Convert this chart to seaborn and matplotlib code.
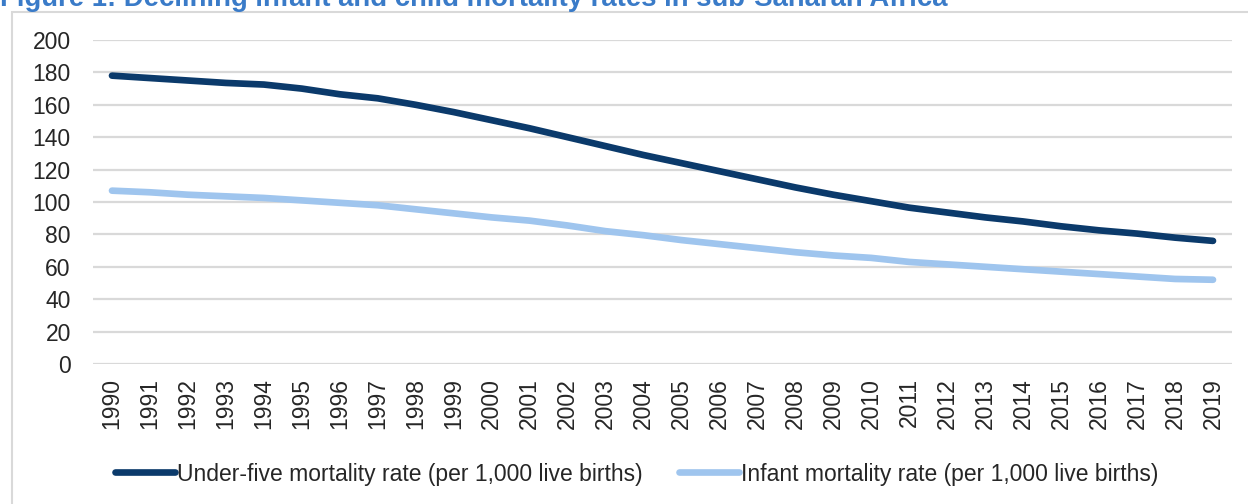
import matplotlib
matplotlib.use('Agg')
import matplotlib.pyplot as plt
import pandas as pd
import seaborn as sns
from matplotlib.patches import Rectangle

years = list(range(1990, 2020))
under_five = [178, 176.5, 175, 173.5, 172.5, 170, 166.5, 164, 160, 155.5,
              150.5, 145.5, 140, 134.5, 129, 124, 119, 114, 109, 104.5,
              100.5, 96.5, 93.5, 90.5, 88, 85, 82.5, 80.5, 78, 76]
infant = [107, 106, 104.5, 103.5, 102.5, 101, 99.5, 98, 95.5, 93,
          90.5, 88.5, 85.5, 82, 79.5, 76.5, 74, 71.5, 69, 67,
          65.5, 63, 61.5, 60, 58.5, 57, 55.5, 54, 52.5, 52]
series_names = ['Under-five mortality rate (per 1,000 live births)',
                'Infant mortality rate (per 1,000 live births)']
title = 'Figure 1: Declining infant and child mortality rates in sub-Saharan Africa'

df = pd.DataFrame({'Year': years, series_names[0]: under_five, series_names[1]: infant})
df_long = df.melt(id_vars='Year', var_name='Series', value_name='Rate')

sns.set_style('white')
plt.rcParams['font.family'] = ['Liberation Sans', 'DejaVu Sans']

fig = plt.figure(figsize=(12.48, 5.04), dpi=100)
ax = fig.add_axes([93 / 1248, 1 - 364 / 504, (1232 - 93) / 1248, 324 / 504])

palette = {series_names[0]: '#0B3A6B', series_names[1]: '#9FC5EE'}
sns.lineplot(data=df_long, x='Year', y='Rate', hue='Series', palette=palette,
             linewidth=4.8, ax=ax, legend=True)
for line in ax.lines:
    line.set_solid_capstyle('round')

ax.set_xlim(1989.5, 2019.5)
ax.set_ylim(0, 200)
ax.set_yticks(range(0, 201, 20))
ax.set_xticks(years)
ax.set_xticklabels([str(y) for y in years], rotation=90)
ax.tick_params(axis='y', labelsize=16.5, pad=16, length=0, labelcolor='#262626')
ax.tick_params(axis='x', labelsize=16.5, pad=10, length=0, labelcolor='#262626')
ax.grid(axis='y', color='#D9D9D9', linewidth=1.6)
ax.set_axisbelow(True)
for s in ax.spines.values():
    s.set_visible(False)
ax.set_xlabel('')
ax.set_ylabel('')

handles, labels = ax.get_legend_handles_labels()
ax.get_legend().remove()
fig.legend(handles, labels, loc='center', bbox_to_anchor=(637 / 1248, 1 - 474 / 504),
           ncol=2, frameon=False, fontsize=16.5, handlelength=2.6, handletextpad=0.1,
           columnspacing=1.6, labelcolor='#262626')

# chart frame (only top and left edges visible)
fig.patches.append(Rectangle((12 / 1248, -0.1), 1.2, 1 - 12 / 504 + 0.1,
                             transform=fig.transFigure, fill=False,
                             edgecolor='#D9D9D9', linewidth=1.5))

# title sits mostly above the image edge, as in the source screenshot
fig.text(0, 1 - 6 / 504, title, fontsize=19.8, fontweight='bold', color='#3A7BC8',
         va='baseline', ha='left', family=['Liberation Sans Narrow', 'Liberation Sans'])

fig.savefig('out.png', dpi=100)
